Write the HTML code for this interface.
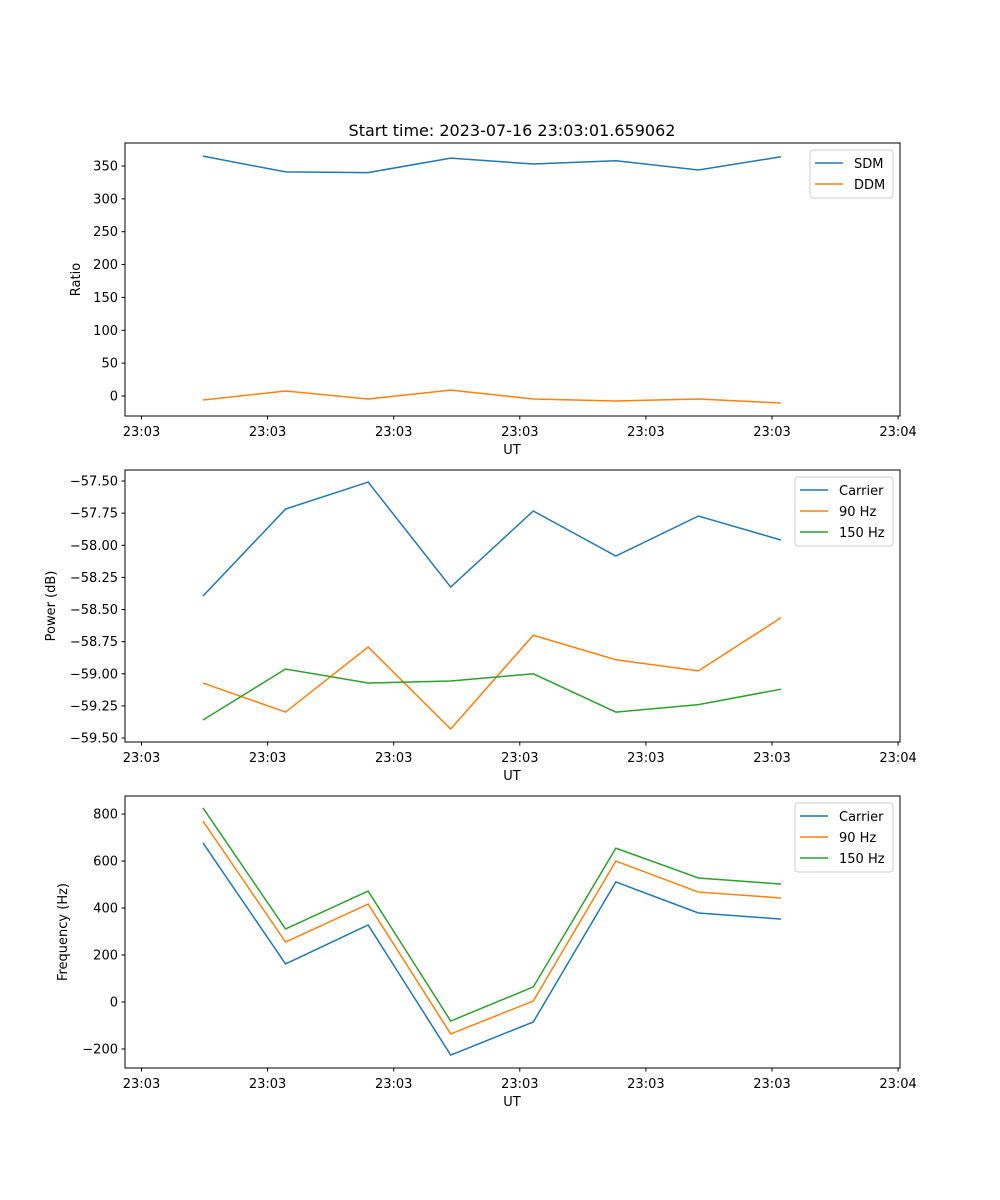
<!DOCTYPE html>
<html><head><meta charset="utf-8"><style>
body{margin:0;background:#fff}
svg{display:block;font-family:"DejaVu Sans","Liberation Sans",sans-serif}
</style></head><body>
<svg id="fig" width="1000" height="1200" xmlns="http://www.w3.org/2000/svg">
<rect width="1000" height="1200" fill="#fff"/>
<text x="512" y="136" font-size="16" text-anchor="middle">Start time: 2023-07-16 23:03:01.659062</text>
</svg>
<script>
const xTickLabels = ["23:03","23:03","23:03","23:03","23:03","23:03","23:04"];
const sdm = [365,341,340,362,353,358,344,364];
const ddm = [-6,7.6,-4.6,9,-4.6,-7.6,-4.6,-10.6];
const pCarrier = [-58.395,-57.718,-57.508,-58.325,-57.733,-58.084,-57.772,-57.959];
const p90 = [-59.072,-59.298,-58.792,-59.43,-58.700,-58.891,-58.977,-58.564];
const p150 = [-59.36,-58.963,-59.072,-59.056,-59.0,-59.298,-59.24,-59.12];
const fCarrier = [677,162,328,-226,-85,511,379,353];
const f90 = [770,255,417,-136,4,600,468,443];
const f150 = [826,311,472,-81,64,655,528,502];
const ratioTicks = [0,50,100,150,200,250,300,350];
const powerTicks = [-59.5,-59.25,-59.0,-58.75,-58.5,-58.25,-58.0,-57.75,-57.5];
const freqTicks = [-200,0,200,400,600,800];

const svg = document.getElementById('fig');
const NS = 'http://www.w3.org/2000/svg';
const C = {blue:'#1f77b4',orange:'#ff7f0e',green:'#2ca02c'};
function mk(tag, attrs, parent){const e=document.createElementNS(NS,tag);for(const k in attrs)e.setAttribute(k,attrs[k]);(parent||svg).appendChild(e);return e;}
const L=125,R=900;
const xIdx = i => 203 + i*82.57;
const xTickPos = k => 141.5 + k*126.1;

function panel(name, top, bot, ymin, ymax, yticks, fmt, ylabel, series, legend){
  const g = mk('g',{});
  
  
  const y = v => bot - (v-ymin)/(ymax-ymin)*(bot-top);
  series.forEach(s=>{
    const pl = mk('polyline',{points:s.data.map((v,i)=>xIdx(i)+','+y(v)).join(' '),fill:'none',stroke:s.color,'stroke-width':1.5},g);
    
    
  });
  mk('rect',{x:L,y:top,width:R-L,height:bot-top,fill:'none',stroke:'#000','stroke-width':1},g);
  yticks.forEach(v=>{
    const yy=y(v);
    mk('line',{x1:L-3.5,x2:L,y1:yy,y2:yy,stroke:'#000'},g);
    const t=mk('text',{x:L-7,y:yy+4.5,'font-size':13,'text-anchor':'end'},g);
    t.textContent=fmt(v);
    
    
  });
  xTickLabels.forEach((lab,k)=>{
    const xx=xTickPos(k);
    mk('line',{x1:xx,x2:xx,y1:bot,y2:bot+3.5,stroke:'#000'},g);
    const t=mk('text',{x:xx,y:bot+20,'font-size':13,'text-anchor':'middle'},g);
    t.textContent=lab;
    
    
  });
  const xl=mk('text',{x:512,y:bot+38,'font-size':13,'text-anchor':'middle'},g);
  xl.textContent='UT';
  
  
  const cy=(top+bot)/2;
  const yl=mk('text',{x:legend.ylx,y:cy,'font-size':13,'text-anchor':'middle',transform:'rotate(-90 '+legend.ylx+' '+cy+')'},g);
  yl.textContent=ylabel;
  
  
  const lg=mk('g',{},g);
  
  
  const h=series.length*21+6;
  mk('rect',{x:legend.x,y:top+7,width:R-7-legend.x,height:h,rx:3,fill:'#fff',stroke:'#ccc'},lg);
  series.forEach((s,i)=>{
    const yy=top+7+13+i*21;
    mk('line',{x1:legend.x+5,x2:legend.x+33,y1:yy,y2:yy,stroke:s.color,'stroke-width':1.5},lg);
    const t=mk('text',{x:legend.x+44,y:yy+5,'font-size':13},lg);
    t.textContent=s.label;
    
    
  });
}
panel('ratio-panel',143,416,-30.4,385,ratioTicks,v=>String(v),'Ratio',
  [{id:'sdm-line',label:'SDM',data:sdm,color:C.blue},{id:'ddm-line',label:'DDM',data:ddm,color:C.orange}],{x:810,ylx:80});
panel('power-panel',470,742,-59.531,-57.414,powerTicks,v=>'\u2212'+Math.abs(v).toFixed(2),'Power (dB)',
  [{id:'power-carrier-line',label:'Carrier',data:pCarrier,color:C.blue},{id:'power-90hz-line',label:'90 Hz',data:p90,color:C.orange},{id:'power-150hz-line',label:'150 Hz',data:p150,color:C.green}],{x:795,ylx:55});
panel('frequency-panel',796,1068,-281,877,freqTicks,v=>(v<0?'\u2212':'')+Math.abs(v),'Frequency (Hz)',
  [{id:'freq-carrier-line',label:'Carrier',data:fCarrier,color:C.blue},{id:'freq-90hz-line',label:'90 Hz',data:f90,color:C.orange},{id:'freq-150hz-line',label:'150 Hz',data:f150,color:C.green}],{x:795,ylx:67});
</script>
</body></html>
